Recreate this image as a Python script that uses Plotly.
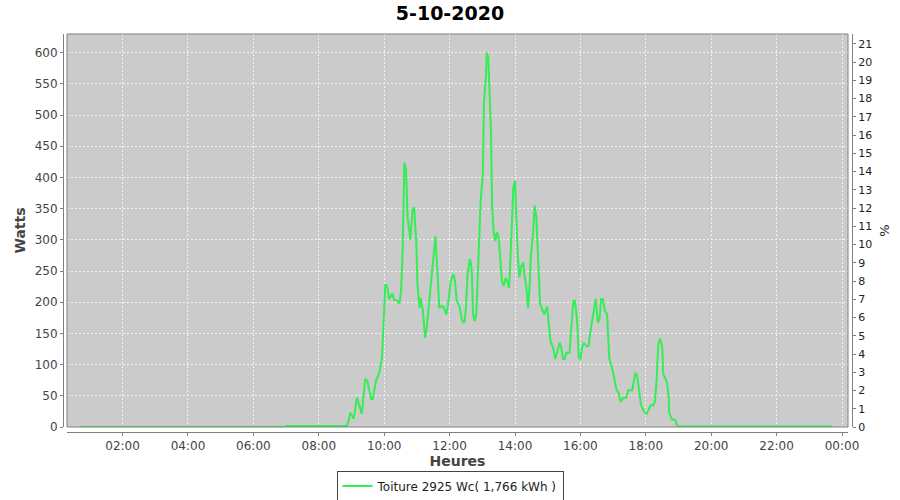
import plotly.graph_objects as go

DAY = "2020-10-05"
NEXT_DAY = "2020-10-06"

times = [
    "00:42", "06:58", "07:00", "08:52", "08:58", "09:04", "09:10", "09:19", "09:25", "09:29",
    "09:36", "09:39", "09:45", "09:51", "09:56", "09:59", "10:02", "10:06", "10:09", "10:15",
    "10:18", "10:23", "10:28", "10:31", "10:34", "10:37", "10:40", "10:43", "10:48", "10:52",
    "10:55", "10:59", "11:01", "11:05", "11:07", "11:11", "11:15", "11:18", "11:23", "11:29",
    "11:34", "11:38", "11:41", "11:46", "11:49", "11:54", "11:58", "12:02", "12:07", "12:10",
    "12:13", "12:18", "12:23", "12:27", "12:30", "12:33", "12:37", "12:39", "12:41", "12:43",
    "12:46", "12:49", "12:53", "12:57", "13:01", "13:03", "13:07", "13:08", "13:11", "13:13",
    "13:16", "13:18", "13:21", "13:24", "13:27", "13:30", "13:33", "13:36", "13:39", "13:43",
    "13:46", "13:49", "13:51", "13:54", "13:57", "14:00", "14:02", "14:05", "14:08", "14:11",
    "14:15", "14:17", "14:21", "14:24", "14:27", "14:29", "14:33", "14:36", "14:39", "14:41",
    "14:43", "14:46", "14:51", "14:54", "14:59", "15:01", "15:05", "15:10", "15:14", "15:17",
    "15:22", "15:25", "15:28", "15:31", "15:34", "15:40", "15:43", "15:47", "15:50", "15:54",
    "15:57", "16:00", "16:03", "16:06", "16:11", "16:15", "16:18", "16:23", "16:25", "16:28",
    "16:32", "16:35", "16:38", "16:41", "16:45", "16:49", "16:53", "16:58", "17:02", "17:06",
    "17:10", "17:14", "17:19", "17:24", "17:28", "17:35", "17:41", "17:44", "17:47", "17:51",
    "17:56", "18:01", "18:05", "18:09", "18:14", "18:17", "18:20", "18:23", "18:26", "18:30",
    "18:32", "18:36", "18:39", "18:42", "18:43", "18:48", "18:53", "18:56", "18:58", "23:42",
]
watts = [
    0, 0, 1.5, 1.5, 23, 13, 47, 21, 77, 74,
    45, 45, 74, 87, 111, 165, 229, 223, 205, 214,
    204, 203, 198, 218, 288, 424, 413, 336, 300, 349,
    352, 293, 229, 191, 207, 186, 143, 159, 207, 256,
    306, 245, 191, 194, 192, 180, 202, 234, 245, 234,
    202, 194, 170, 167, 191, 245, 269, 264, 245, 181,
    170, 181, 288, 363, 405, 518, 566, 600, 593, 550,
    470, 352, 312, 298, 312, 304, 266, 234, 226, 239,
    234, 223, 256, 325, 384, 395, 341, 277, 240, 256,
    264, 245, 223, 191, 229, 272, 309, 355, 338, 298,
    250, 197, 186, 181, 193, 175, 138, 127, 109, 119,
    135, 127, 109, 109, 119, 119, 154, 202, 202, 170,
    111, 109, 127, 135, 130, 130, 151, 181, 189, 205,
    167, 173, 205, 205, 186, 181, 109, 95, 79, 60,
    55, 40, 47, 47, 59, 59, 87, 82, 63, 36,
    26, 21, 27, 35, 35, 42, 79, 133, 142, 130,
    85, 77, 71, 47, 23, 12, 12, 7, 1, 1,
]

series_name = "Toiture 2925 Wc( 1,766 kWh )"
title_text = "5-10-2020"
peak_wc = 2925
w_ticks = list(range(0, 601, 50))
pct_ticks = list(range(0, 22))
x_tick_vals = [f"{DAY} {h:02d}:00" for h in range(2, 24, 2)] + [f"{NEXT_DAY} 00:00"]

x = [f"{DAY} {t}" for t in times]

W, H = 900, 500
PL, PR, PT, PB = 67, 848, 34, 427
w_max = 630

fig = go.Figure()
fig.add_trace(go.Scatter(
    x=x, y=watts, mode="lines", name=series_name,
    line=dict(color="#33ee55", width=2),
    yaxis="y", xaxis="x",
))
# invisible trace for percent axis
fig.add_trace(go.Scatter(
    x=[x[0]], y=[0], mode="lines", showlegend=False, hoverinfo="skip",
    line=dict(color="rgba(0,0,0,0)"), yaxis="y2", xaxis="x",
))

tick_font = dict(family="DejaVu Sans", size=12, color="#444444")
title_font = dict(family="DejaVu Sans", size=14, color="#444444")
grid = dict(showgrid=True, gridcolor="#f2f2f2", griddash="2px,2px", gridwidth=1)

fig.update_layout(
    width=W, height=H,
    margin=dict(l=0, r=0, t=0, b=0, autoexpand=False),
    paper_bgcolor="white",
    plot_bgcolor="#cbcbcb",
    title=dict(text=f"<b>{title_text}</b>", x=0.5, xanchor="center",
               xref="paper", yref="container",
               y=1 - 13 / H, yanchor="middle", automargin=False,
               font=dict(family="DejaVu Sans", size=19, color="black")),
    xaxis=dict(
        type="date", automargin=False,
        domain=[PL / W, PR / W],
        anchor="free", position=(H - 432) / H,
        range=[f"{DAY} 00:18", f"{NEXT_DAY} 00:11"],
        tickvals=x_tick_vals, tickformat="%H:%M",
        tickfont=tick_font,
        ticks="outside", ticklen=3, tickcolor="#808080",
        showline=True, linecolor="#808080", linewidth=1,
        zeroline=False,
        title=dict(text="<b>Heures</b>", font=title_font, standoff=2),
        **grid,
    ),
    yaxis=dict(
        automargin=False,
        domain=[(H - PB) / H, (H - PT) / H],
        anchor="free", position=63 / W,
        range=[0, w_max],
        tickvals=w_ticks,
        tickfont=tick_font,
        ticks="outside", ticklen=3, tickcolor="#808080",
        showline=True, linecolor="#808080", linewidth=1,
        zeroline=False,
        title=dict(text="<b>Watts</b>", font=title_font, standoff=4),
        **grid,
    ),
    yaxis2=dict(
        automargin=False,
        overlaying="y", side="right",
        anchor="free", position=852 / W,
        range=[0, w_max / peak_wc * 100],
        tickvals=pct_ticks,
        tickfont=dict(family="DejaVu Sans", size=11, color="#222222"),
        ticks="outside", ticklen=3, tickcolor="#808080",
        showline=True, linecolor="#808080", linewidth=1,
        showgrid=False, zeroline=False,
        title=dict(text="%", font=dict(family="DejaVu Sans", size=13, color="#222222"), standoff=8),
    ),
    legend=dict(
        orientation="h", x=0.5, xanchor="center", y=1 - 486 / H, yanchor="middle",
        bgcolor="white", bordercolor="#444444", borderwidth=1,
        font=dict(family="DejaVu Sans", size=12, color="#222222"),
        itemwidth=30,
    ),
    shapes=[dict(
        type="rect", xref="paper", yref="paper",
        x0=PL / W, x1=PR / W, y0=(H - PB) / H, y1=(H - PT) / H,
        line=dict(color="#808080", width=1), fillcolor="rgba(0,0,0,0)", layer="above",
    )],
    showlegend=True,
)

fig.write_html("out.html", config={"displayModeBar": False},
               post_script="document.body.style.margin='0';")
